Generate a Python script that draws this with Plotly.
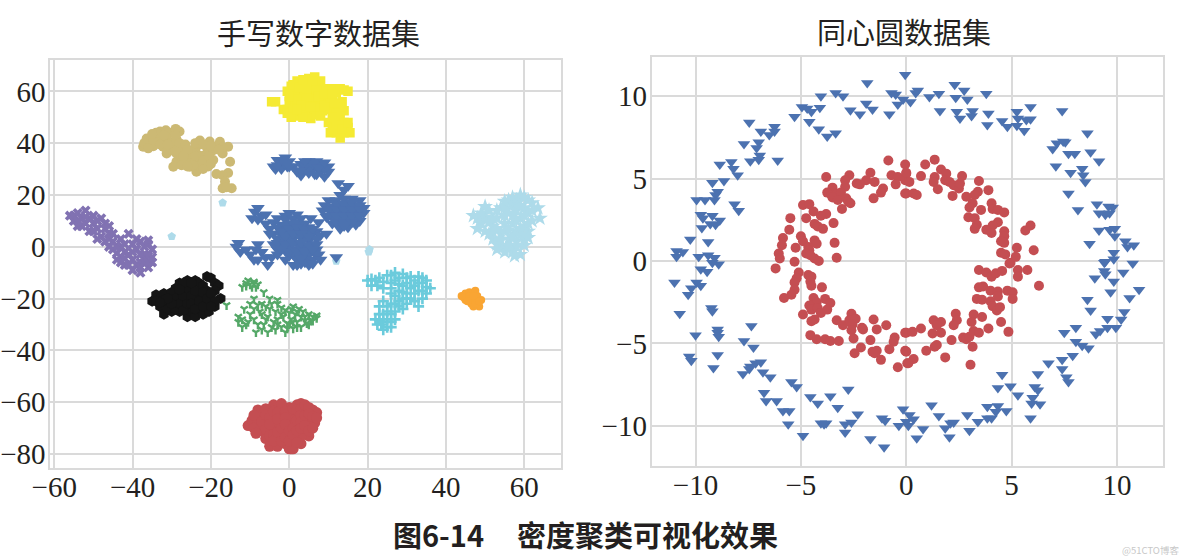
import plotly.graph_objects as go

# ---------- digits panel (t-SNE clusters) ----------
digit_yellow = [(-4.5,56),(-3.5,56),(-1.5,53),(-0.5,53),(-0.5,51.5),(0,56),(1,59),(0.5,62),(2,64),(1.5,55),(3,60),(3,52),(2,50.5),(4,56),(4,63),(5,60),(5,65),(6,62),(6.5,65.5),(7.5,63),(8,60),(8,64),(5.5,56),(5.5,52.5),(5.5,49.5),(7,51),(7,56),(9,61),(9,57),(8.5,52.5),(10,60),(11,61),(12,59.5),(13,61),(14,60.5),(15,60),(11,57),(12,54),(13,51),(13.5,56),(10,55),(10,48),(11,46),(12,44),(13,42),(14,44),(15,46),(15.5,44),(13,47),(12,49),(14,48),(10,53),(14,52.5),(13,54),(1.5,60),(3,57),(4,53),(6,58),(2,57),(8,54),(6.5,60),
(0,58),(-0.5,60),(1,62.5),(2.5,61.5),(3.5,64.5),(4.5,58),(6,64),(7,60.5),(7.5,58),(6.5,53.5),(8,50.5),(9,54.5),(10.5,57.5),(11.5,55.5),(12,51.5),(12,47),(11,50),(10.5,44),(13.5,45.5),(15,48),(3,54.5),(1,52.5),(0.5,50),(3.5,50),(2,53),(4.5,61),(9,59),(11,59),(5.5,54)]
digit_tan = [(-33,44.5),(-30.5,44),(-28,44.5),(-36.4,41.8),(-33.9,42),(-31.3,41.8),(-28.8,41.5),(-37.3,38.6),(-34.7,38.8),(-32.2,38.6),(-29.6,38.6),(-27.1,38.6),(-23.7,38.6),(-21.1,38.6),(-18.6,38.6),(-15.6,38.6),(-22.8,41),(-20.3,40.6),(-17.7,40.5),(-31.3,36),(-28.8,36),(-26.2,36),(-23.7,36),(-21.1,36),(-17,36),(-28.8,32.8),(-26.2,32.8),(-23.7,32.8),(-21.1,32.8),(-19.4,33.5),(-15.1,32.8),(-29.6,30.9),(-25.4,30.9),(-23,30.9),(-20.7,31),(-23.7,29),(-18.6,28.1),(-15.6,28.5),(-17,27.6),(-16.4,25.1),(-17,22.6),(-14.7,22.6),(-16,23),(-35,40.3),(-32,40.3),(-30,40.2),(-27.5,37.5),(-25,34.5),(-22.5,35),(-30,37.3),(-19.5,37.2),(-25,37.3),(-27.5,34.5),
(-34,44),(-31.5,45),(-29,45.5),(-35,43.5),(-32,43),(-29,43),(-37,40),(-33,39.5),(-31,39.5),(-28,40),(-26.5,39.5),(-26,37.5),(-24,40),(-22,39.5),(-20,39),(-17,38.5),(-29,37),(-27,35),(-24,35),(-24.5,31.5),(-22,33.5),(-22,30),(-20.5,35),(-18,37.5),(-20,32),(-27.5,31.5),(-26,31),(-36,38)]
digit_blue = [(-4,31),(-3,33.5),(-2,32),(-1,34.5),(0,33),(1,31),(-3.5,30),(-0.5,31),(2,29),(3,32),(4,30),(5,33),(6,30),(7,33),(8,29),(8,32),(9,27),(10,31),(3,27.5),(7,28),(5,30),(10,29),(12.5,24.5),(15,23.5),(13,20),(14,22),
(10,18),(12,18),(14,18.5),(16,18.5),(18,18),(9,16),(11,15.5),(13,16),(15,15.5),(17,16),(19,15),(8.5,14),(11,13),(13,13.5),(15,13),(17,13),(19,13),(9.5,11.5),(11.5,10.5),(13,11),(15,10.5),(17,11),(18,10),(11,9),(13,8.5),(15,9),(17,8.5),(13,7),(15,7.5),
(-8.8,13.5),(-8,15),(-7,12),(-9.5,11),(-6,12.5),(-8,10.5),(-13.5,0),(-12.5,-2),(-11,-1),(-13,1.5),(-10,-3),(-8.5,-1),(-8,1),(-7,-2),(-8,-5),(-5.5,-7),(-6,-4),(-9,-5),(-4.5,-4),
(0,13),(2,12.5),(-1,12),(-3,11),(-1,10.5),(1,11),(3,11),(-6,9),(-4,9.5),(-2,8.5),(0,9),(2,9.5),(4,9),(-5,7),(-3,7.5),(-1,6.5),(1,7),(3,6.5),(5,7.5),(7,6),(-4,5),(-2,4.5),(0,5),(2,5.5),(4,4.5),(6,5),(8,4.5),(-3,3),(-1,2.5),(1,3),(3,3.5),(5,2.5),(7,3),(9.5,5),(-4,1),(-2,0.5),(0,1),(2,1.5),(4,0.5),(6,1),(-3,-1),(-1,-1.5),(1,-1),(3,-0.5),(5,-1.5),(7,-1),(-3,-3),(0,-3.5),(1,-3),(3,-3),(5,-3),(6.5,-2.5),(7.5,-3),(-1,-5),(2,-5),(4,-4.5),(6,-5),(8,-5),(1,-7),(3,-6.5),(5,-7),(5.5,11),(7.5,9.5),(12,-4),
(-5,5),(-1,8),(1,9),(3,8),(5,5),(-2,6),(0,7),(2,7.5),(4,6.5),(6,7),(-1,4),(1,5),(3,5),(5,4),(-3,1.5),(-1,1),(1,1.5),(3,1.5),(5,0.5),(7,1),(-2,-1),(0,-2),(2,-2),(4,-2),(6,-1),(2,-7),(4,-6),(3,-4.5),(6,-6.5),
(12,16.5),(14,16.5),(16,17),(18,16),(10,14.5),(12,14.5),(14,14.5),(16,14.5),(18,14.5),(10,12),(12,12),(14,12),(16,12),(18,12),(12,9.5),(14,9.5),(16,9.5),(14,8),
(4,31.5),(6,32),(9,30),(3,29.5),(5,28.5),(6.5,28),(7.5,30.5),(9,32.5),(4,33),(-2,30),(-1.5,33.5),(-3,31.5),(-1,32),(0,31)]
digit_lightblue = [(47,12),(49,9),(50,6),(50,11.5),(50,15.5),(51,14),(52,8),(52,3),(53,11),(54,5),(54,0),(55,-2),(55,9),(56,13),(56,3),(57,16),(57,-2),(58,6),(58,18),(59,11),(59,-3),(60,15),(60,3),(60,8),(61,13),(62,17),(61,18),(62,10),(63.5,15),(64,11),(58,0),(56,-1),(53,1),(48,7),(54,15),(59,20),(57,9),(55,6),(52,11),(58,14),
(48,11),(49,13),(51,9.5),(53,7),(52,5.5),(53,14),(55,12),(55,15),(54,2.5),(56,6.5),(57,12),(57,4),(58,10),(58,2),(59,16),(59,7),(60,12),(60,19),(61,6),(61,9),(62,14),(57,19),(56,18),(55,17.5),(51,5),(53,-1),(56,0.5),(57.5,-3.5),(60,0.5),(59,4.5),(61,3.5)]
digit_lightblue_outliers = [(-30,4),(-17,17),(20.5,-1),(20.3,-2),(12,-5.5)]
digit_purple = [(-56,12),(-55,10),(-54,13),(-53,8),(-53,11),(-52,14),(-52,9),(-51,11),(-51,6),(-50,9),(-49,7),(-48,11),(-48,4),(-47,7),(-46,3),(-46,5),(-45,-1),(-45,2),(-44,-5),(-44,0),(-43,3),(-42,-2),(-42,-7),(-41,-3),(-41,5),(-40,1),(-40,-5),(-40,-9),(-39,-1),(-38,-6),(-38,-10),(-38,2),(-37,-3),(-36,-8),(-35,-1),(-35,-6),(-38,-3),(-36,1),(-43,-4),
(-55,12),(-54,10),(-54,8),(-52,11.5),(-50,12),(-50,6),(-49,10),(-49,3),(-47,9),(-47,2),(-46,8),(-46,0),(-45,5),(-44,-2.5),(-43,0),(-43,-6),(-42,1),(-42,-4.5),(-41,-7),(-40,-2),(-39,-7),(-39,3),(-38,-8),(-37,0),(-37,-6),(-36,-3.5),(-36,-6),(-35,-4),(-36,2.5)]
digit_black = [(-35,-21),(-34,-18.5),(-33,-23),(-33,-20),(-32,-26),(-32,-18),(-31,-22),(-30,-19),(-30,-25),(-29,-16),(-29,-22),(-28,-14),(-28,-19),(-28,-25),(-27,-16),(-27,-22),(-26,-13),(-26,-19),(-26,-27),(-25,-25),(-25,-16),(-24,-13),(-24,-21),(-24,-27),(-23,-14),(-23,-18),(-23,-24),(-22,-26),(-22,-20),(-21,-23),(-20.5,-25),(-21,-17),(-20,-21),(-19,-23),(-21,-11.5),(-20,-12),(-19,-14),(-18,-15),(-19,-17),(-17.5,-20),
(-34,-21),(-32,-20.5),(-31,-24),(-30,-17.5),(-29,-20),(-29,-24),(-28,-22),(-27,-19),(-27,-24.5),(-26,-16),(-26,-22),(-25,-19),(-25,-22),(-24,-17),(-24,-24),(-23,-21),(-22,-15),(-22,-17.5),(-22,-23),(-21,-20),(-20,-18),(-27,-14),(-25,-14),(-30,-22),(-31,-20),(-33,-21.5),(-28,-16.5),(-19,-21),(-20,-23)]
digit_green = [(-12,-15.5),(-11,-15),(-10,-14.5),(-9,-14),(-8,-14.5),(-10.5,-13),(-9.5,-15.5),(-6.5,-17.5),(-16,-22.5),(-13,-29),(-12,-28),(-11,-30),(-11.5,-24),(-10,-26),(-10,-22),(-9,-24),(-9,-28),(-8,-22.5),(-8,-30),(-8.5,-33),(-7,-26),(-6.5,-30),(-6,-23),(-5.5,-33),(-5.5,-27),(-5,-20),(-5,-24),(-4,-29),(-3.5,-25),(-3.5,-32),(-3,-28),(-2,-31),(-2,-23.5),(-1.5,-27),(-1,-33),(-0.5,-29.5),(0,-25.5),(0.5,-28),(1,-23),(1.5,-26),(2,-29),(2.5,-24),(3,-27),(3,-31),(4,-27),(4.5,-29.5),(5,-26),(6,-27),(7,-27.5),(5.5,-28.5),(1,-31.5),
(-13,-27),(-12,-31),(-10.5,-29),(-9,-20),(-7.5,-25),(-7,-22),(-7,-32),(-6,-28),(-4.5,-31),(-4.5,-22),(-3,-22),(-3,-30),(-2,-26),(-1,-24.5),(-0.5,-31.5),(0,-30),(0.5,-24),(2,-25),(1,-29),(3.5,-25),(4,-28.5),(5,-30),(6,-28.5),(7,-26.5),(2,-31),(-3,-20.5),(-11,-14),(-9,-13.5),(-8.5,-15.5)]
digit_cyan = [(20,-13),(21,-15),(22,-13),(23,-12),(24,-16),(25,-11),(26,-14),(26,-18),(27,-10),(28,-12),(28,-17),(29,-15),(29,-20),(30,-12),(31,-16),(31,-20),(32,-13),(33,-11.5),(33,-17),(34,-14),(35,-13),(35,-18),(34,-20),(33,-23),(36,-16),(30,-22),(28,-21),(26,-22),(24,-21),(23,-23),(25,-25),(27,-25),(29,-24),(23,-26),(24,-29),(25,-28),(22.5,-30),(24,-32),(25,-31),(27,-28),
(21,-12.5),(22.5,-15),(24,-13.5),(26,-11),(26,-16),(27,-13),(27,-19),(28,-14.5),(29,-10.5),(30,-14),(30,-18),(31,-11.5),(32,-15),(32,-18),(33,-14),(34,-12),(34,-17),(35,-15.5),(32,-21),(30,-20),(29,-17.5),(27,-22),(25,-23),(26,-26),(28,-23),(24,-26),(26,-29),(23,-28),(22,-28),(26,-31),(23.5,-30)]
digit_orange = [(44,-19),(45,-18),(45,-20.5),(46,-17.5),(46.5,-19.5),(46.5,-22),(47.5,-17),(47.5,-21),(48,-19),(48.5,-23),(49,-20.5),(47,-23),(44.5,-19.5),(46,-19),(47,-19),(47.5,-22),(48.5,-21),(45.5,-21)]
digit_red = [(-10.5,-69),(-9.5,-67),(-8,-63),(-7,-65),(-8,-68),(-7,-71),(-6,-74),(-5,-77),(-5,-63),(-4,-61),(-4,-66),(-4,-70),(-3,-74),(-3,-77),(-2,-62),(-2,-67),(-1,-71),(-1,-76),(0,-62),(0,-65),(0,-69),(0.5,-73),(0.5,-78),(0,-78),(1,-75),(2,-61),(2,-65),(2,-69),(2,-73),(3,-60.5),(4,-63),(4,-67),(4,-71),(5,-73),(6,-63),(7,-64),(6.5,-68),(5.5,-66),(3,-76),(1,-78),(-6,-68),(-2.5,-72),(-6,-62.5),(-5.5,-71),(-2,-64.5),(1,-67),(-3,-69),(3,-73),(5,-69),
(-9,-65),(-9,-70),(-7,-67.5),(-6,-65),(-6,-70.5),(-5,-66),(-5,-68.5),(-5,-73),(-4,-63.5),(-4,-72.5),(-4,-75),(-3,-64),(-3,-66.5),(-3,-71.5),(-2,-75),(-2,-70),(-2,-60.5),(-1,-63.5),(-1,-66),(-1,-68.5),(-1,-73.5),(0,-71),(0,-75),(1,-62.5),(1,-70),(1,-72.5),(2,-63),(2,-67),(2,-71),(2,-75.5),(3,-62.5),(3,-65),(3,-67.5),(3,-70),(4,-61),(4,-65),(4,-69),(5,-62),(5,-64.5),(5,-71),(6,-65.5),(6,-70),(7,-66),(-8.5,-72)]

# ---------- concentric circles panel ----------
ring_blue = [(-0.05,11.3),(-1.85,10.8),(-4.05,10.0),(-3.35,10.2),(-3.0,10.0),(-0.7,10.2),(-0.5,10.1),(-0.15,9.8),(-0.4,9.5),(-1.9,9.55),(-1.6,9.2),(-2.65,9.15),(-2.2,8.9),(-0.8,8.9),(-4.1,9.3),(-4.95,9.35),(-4.7,9.25),(-4.5,9.05),(-5.3,8.75),(-4.6,8.45),(-4.15,8.0),(-3.75,7.55),(-3.35,7.75),(-7.45,8.4),(-6.25,8.15),(-6.9,7.85),(-6.25,7.85),(-6.5,7.65),(-7.0,7.2),(-7.7,7.1),(-7.1,6.85),(-6.95,6.4),(-7.0,6.15),(-7.4,6.05),(-6.1,6.1),(-8.85,5.85),(-8.3,6.0),(-8.2,5.6),(-8.0,5.2),(-8.65,4.85),(-9.2,4.75),(-8.95,4.2),(-9.05,4.0),(-9.1,3.7),(-9.95,3.7),(-9.55,3.7),(-8.15,3.45),(-7.95,3.05),(-9.75,2.8),(-9.2,2.75),(-9.65,2.6),(-8.85,2.45),(-9.3,2.25),(-9.05,2.2),(-9.7,2.0),(-10.25,1.3),(-9.4,1.15),(-10.9,0.6),(-10.9,0.25),(-10.6,0.55),(-9.85,0.25),(-9.4,0.35),(-9.1,0.2),(-8.9,-0.2),(-9.2,-0.1),(-9.75,-0.5),(-9.45,-0.65),
(-11.0,-1.3),(-9.95,-1.3),(-9.75,-1.5),(-10.2,-1.65),(-10.35,-2.05),(-10.75,-3.2),(-9.25,-2.85),(-9.2,-3.05),(-7.35,-3.95),(-10.0,-4.5),(-8.95,-4.15),(-8.95,-4.35),(-8.9,-4.6),(-7.7,-4.85),(-7.25,-5.25),(-8.95,-5.7),(-10.3,-5.8),(-10.2,-6.05),(-9.15,-6.5),(-6.9,-6.15),(-7.15,-6.2),(-7.4,-6.4),(-7.45,-6.55),(-6.8,-6.75),(-7.75,-6.85),(-6.45,-7.05),(-5.45,-7.35),(-5.2,-7.65),(-2.75,-7.8),(-6.75,-8.0),(-6.65,-8.5),(-6.15,-8.5),(-4.55,-8.25),(-3.6,-8.2),(-4.2,-8.65),(-3.25,-8.9),(-5.85,-9.1),(-5.55,-9.1),(-2.3,-9.3),(-5.6,-9.9),(-4.05,-9.85),(-3.8,-9.85),(-3.9,-9.9),(-2.9,-9.9),(-2.6,-9.8),(-2.9,-10.4),(-4.9,-10.6),(-1.7,-10.8),(-1.05,-11.3),(-1.15,-9.55),(-1.0,-9.7),(-0.35,-10.0),(-0.15,-9.0),(0,-9.75),(0.15,-9.35),(0.35,-9.6),(0.1,-10),(0.5,-10.75),(0.8,-10.2),(1.2,-8.75),(1.55,-9.4),(1.85,-10.15),(2.05,-10.7),(2.1,-9.85),(2.25,-9.8),(2.9,-9.35),(3.0,-10.3),(3.4,-9.75),(3.85,-8.85),(3.85,-9.55),(4.05,-9.55),(4.25,-9.15),(4.35,-8.8),(4.75,-9.1),(4.35,-7.7),(4.55,-6.9),(4.95,-7.6),(5.3,-8.15),(5.9,-9.55),(5.95,-8.65),(6.0,-8.3),(6.35,-8.7),(6.1,-7.65),(6.25,-7.85),(6.25,-6.85),(6.75,-6.2),(7.4,-6.0),(7.4,-6.55),(7.6,-7.05),(7.7,-7.35),(7.9,-5.75),(8.05,-4.9),(8.35,-5.15),(8.65,-5.3),(7.5,-4.35),(8.05,-4.05),(9.0,-4.45),(9.2,-4.25),(9.55,-4.05),(9.95,-4.05),(9.55,-3.5),(10.2,-3.55),(10.35,-3.1),(10.6,-2.25),(11.05,-1.75),(8.6,-2.35),(8.75,-3.0),(8.95,-1.05),(9.7,-1.9),(9.85,-1.25),(9.4,-0.6),(9.45,-0.8),(10.3,-0.7),(9.4,-0.1),(10.75,-0.15),
(0.55,10.35),(0.45,10.2),(0.2,9.65),(1.1,9.95),(1.55,10.15),(2.3,10.7),(2.75,10.35),(2.35,9.9),(2.9,9.8),(3.8,10.15),(1.6,9.1),(2.4,9.05),(2.55,8.65),(3.15,9.1),(3.1,8.8),(3.9,8.95),(3.85,8.25),(4.55,8.5),(4.8,8.15),(5.25,9.05),(5.3,8.65),(5.25,8.2),(5.9,9.35),(5.7,8.55),(5.9,8.6),(5.6,7.9),(7.4,9.1),(8.6,7.75),(6.95,6.8),(7.15,7.15),(7.45,7.25),(7.55,7.2),(7.7,6.5),(8.0,6.5),(8.75,6.6),(9.15,6.05),(7.1,5.75),(7.8,5.35),(8.35,5.6),(8.4,5.2),(8.5,4.8),(7.7,4.1),(8.15,3.1),(9.05,3.45),(9.6,3.3),(9.8,3.25),(9.15,2.9),(9.45,2.8),(9.65,2.9),(9.15,1.85),(9.65,1.9),(9.9,1.95),(9.9,1.5),(8.7,1.05),(10.4,1.2),(10.5,0.85),(10.8,0.95),(9.85,0.5),(9.85,0.1),(9.45,-0.05)]
ring_red = [(-0.85,6.1),(-0.05,5.85),(-1.7,5.35),(-2.7,5.2),(-3.8,5.1),(-2.9,4.9),(-1.9,4.9),(-1.5,4.8),(-2.35,4.7),(-2.2,4.65),(-0.7,5.2),(-0.4,5.1),(0,5.3),(-0.05,4.9),(-0.5,4.65),(-2.9,4.5),(-3.5,4.45),(-3.75,4.15),(-1.1,4.4),(-1.2,4.15),(-0.05,4.1),(-1.55,3.8),(-3.55,4.0),(-3.3,4.1),(-3.1,4.15),(-3.5,3.85),(-3.25,3.7),(-2.85,3.8),(-2.75,3.6),(-2.65,3.5),(-3.05,3.15),(-4.9,3.4),(-4.6,3.45),(-4.4,3.0),(-3.8,2.85),(-4.05,2.75),(-5.5,2.6),(-4.75,2.6),(-3.45,2.3),(-4.35,2.25),(-4.2,2.1),(-3.95,1.95),(-5.55,1.9),(-5.0,1.5),(-5.85,1.4),(-4.9,1.2),(-4.35,1.25),(-4.25,1.05),(-3.4,1.1),(-5.9,0.95),(-5.25,0.8),(-4.65,0.85),(-4.6,0.65),(-4.75,0.45),(-4.55,0.35),(-6.05,0.45),(-6.0,0.15),(-5.3,-0.05),(-4.35,0.15),(-4.15,0),(-3.3,0.2),(-6.2,-0.45),
(-5.1,-0.7),(-5.2,-1.05),(-5.3,-1.3),(-4.65,-0.85),(-4.5,-0.95),(-4.55,-1.25),(-4.5,-1.5),(-4.0,-1.6),(-5.3,-1.75),(-5.45,-2.05),(-5.8,-2.25),(-4.4,-2.25),(-4.25,-2.5),(-3.85,-2.3),(-3.6,-2.55),(-4.6,-2.7),(-4.5,-2.95),(-4.9,-3.25),(-4.2,-2.85),(-4.05,-3.15),(-3.75,-2.95),(-4.35,-3.55),(-4.5,-3.65),(-3.3,-3.6),(-3.0,-3.9),(-2.6,-3.2),(-2.7,-3.6),(-2.4,-3.5),(-2.55,-3.85),(-2.6,-4.2),(-2.5,-4.7),(-2.1,-4.05),(-2.05,-4.15),(-1.55,-3.55),(-1.4,-4.15),(-0.95,-3.9),(-4.55,-4.5),(-4.25,-4.75),(-3.85,-4.75),(-3.6,-4.85),(-3.2,-4.85),(-1.7,-4.8),(-0.55,-4.65),(-0.6,-4.9),(-0.05,-4.35),(-2.15,-5.25),(-2.45,-5.6),(-1.6,-5.5),(-1.4,-5.45),(-1.5,-5.6),(-0.8,-5.35),(-0.05,-5.45),(-1.2,-6.0),(-0.4,-6.45),(0.05,-6.2),
(0,-4.35),(0.3,-4.3),(0.7,-4.1),(0,-5.5),(0.35,-5.95),(0.1,-6.2),(0.95,-5.45),(1.35,-5.2),(1.45,-5.1),(1.85,-5.85),(1.3,-3.6),(1.65,-3.7),(1.45,-3.9),(1.25,-4.4),(1.65,-4.35),(2.35,-3.2),(2.4,-3.6),(2.25,-3.9),(2.15,-4.8),(2.7,-4.65),(2.85,-4.75),(3.0,-4.6),(3.15,-5.2),(3.05,-6.3),(3.2,-3.25),(3.1,-3.7),(3.6,-3.4),(3.2,-4.25),(3.45,-4.35),(3.9,-4.1),(4.5,-3.7),(4.85,-4.3),(3.35,-2.3),(3.6,-2.35),(3.45,-1.6),(3.65,-1.55),(4.0,-1.8),(4.35,-1.85),(4.35,-2.15),(4.0,-2.45),(4.1,-2.75),(4.3,-3.0),(4.45,-2.8),(4.8,-1.8),(5.05,-1.9),(5.05,-2.3),(6.3,-1.5),(3.45,-0.55),(3.8,-0.7),(4.05,-0.95),(4.25,-0.75),(4.55,-0.6),(4.95,-0.1),(5.3,-0.55),(5.75,-0.55),(5.3,-0.95),
(0.9,5.85),(1.35,6.15),(1.65,5.55),(0.7,5.15),(0,5.35),(1.35,5.1),(1.3,4.8),(0.15,4.8),(1.9,5.3),(1.85,4.9),(2.05,4.8),(2.25,4.6),(2.5,4.4),(2.65,5.15),(2.55,4.7),(1.5,4.35),(0,4.1),(0.35,4.1),(0.5,4.0),(2.2,3.95),(3.45,4.85),(3.9,4.3),(3.4,4.2),(3.25,4.0),(2.85,3.9),(3.15,3.5),(3.0,3.25),(3.55,3.1),(4.05,3.5),(4.1,3.15),(4.35,3.1),(4.65,2.95),(2.95,2.65),(3.25,2.6),(3.35,2.2),(3.25,1.95),(4.35,2.35),(4.1,2.15),(3.8,1.9),(4.05,1.7),(5.9,2.15),(5.65,1.85),(4.65,1.8),(4.65,1.5),(4.5,1.2),(4.65,1.1),(5.25,0.8),(6.05,0.65),(4.5,0.5),(4.7,0.4),(5.2,0.25),(4.9,-0.15)]

left_ticks_x = [-60, -40, -20, 0, 20, 40, 60]
left_ticks_y = [-80, -60, -40, -20, 0, 20, 40, 60]
right_ticks_x = [-10, -5, 0, 5, 10]
right_ticks_y = [-10, -5, 0, 5, 10]
titles = ["手写数字数据集", "同心圆数据集"]
caption = "图6-14     密度聚类可视化效果"
watermark = "@51CTO博客"

W, H = 1184, 559
fig = go.Figure()

def scatter(points, color, symbol, size, axis, line=None):
    mk = dict(color=color, symbol=symbol, size=size)
    mk["line"] = line if line else dict(width=0)
    fig.add_trace(go.Scatter(x=[p[0] for p in points], y=[p[1] for p in points], mode="markers",
                             marker=mk, xaxis="x" + axis, yaxis="y" + axis, showlegend=False))

scatter(digit_purple, "#8172B2", "x", 9, "")
scatter(digit_tan, "#CCB974", "circle", 10, "")
scatter(digit_yellow, "#F5EA33", "square", 9.5, "")
scatter(digit_lightblue, "#AEDBEA", "star", 12, "")
scatter(digit_lightblue_outliers, "#AEDBEA", "pentagon", 9, "")
scatter(digit_blue, "#4C72B0", "triangle-down", 12, "")
scatter(digit_black, "#151515", "hexagon", 11, "")
scatter(digit_green, "#55A868", "y-down", 6, "", dict(color="#55A868", width=2.4))
scatter(digit_cyan, "#6BCBDC", "cross-thin", 8, "", dict(color="#6BCBDC", width=2.6))
scatter(digit_orange, "#F9A533", "circle", 8, "")
scatter(digit_red, "#C44E52", "circle", 11, "")
scatter(ring_blue, "#4C72B0", "triangle-down", 11, "2")
scatter(ring_red, "#C44E52", "circle", 10, "2")

GRID = "#DADADA"
def axis(domain, rng, ticks, anchor, standoff):
    return dict(domain=domain, range=rng, tickmode="array", tickvals=ticks, showgrid=True,
                gridcolor=GRID, gridwidth=1.6, showline=True, linecolor=GRID, linewidth=2, mirror=True,
                zeroline=False, ticks="", anchor=anchor, automargin=False, ticklabelstandoff=standoff,
                tickfont=dict(family="Liberation Serif", size=29, color="#231F20"))

def note(text, x, y, size, color="#231F20"):
    return dict(text=text, x=x / W, y=1 - y / H, xref="paper", yref="paper", showarrow=False,
                xanchor="center", yanchor="middle", font=dict(family="Noto Sans CJK SC", size=size, color=color))

fig.update_layout(
    width=W, height=H, margin=dict(l=0, r=0, t=0, b=0), paper_bgcolor="white", plot_bgcolor="white",
    showlegend=False,
    xaxis=axis([50.3 / W, 560.7 / W], [-61, 69.3], left_ticks_x, "y", -8),
    yaxis=axis([1 - 468.3 / H, 1 - 60 / H], [-85.5, 72.1], left_ticks_y, "x", -3),
    xaxis2=axis([651.7 / W, 1163.3 / W], [-12.08, 12.2], right_ticks_x, "y2", -8),
    yaxis2=axis([1 - 466 / H, 1 - 57.3 / H], [-12.44, 12.36], right_ticks_y, "x2", -3),
    annotations=[
        note(titles[0], 318, 32, 29),
        note(titles[1], 904, 31, 29),
        note("<b>" + caption.replace(" ", "&nbsp;") + "</b>", 585, 534, 29),
        note(watermark, 1150, 550, 9.5, "#C8C8C8"),
    ],
)

fig.write_html("out.html", config={"displayModeBar": False}, post_script="document.body.style.margin='0';")
